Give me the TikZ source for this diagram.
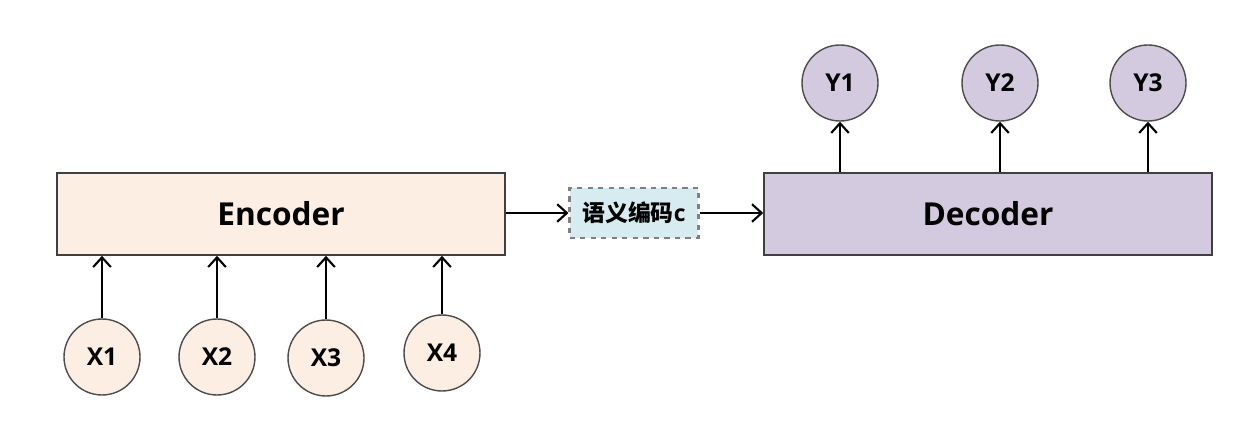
\documentclass[tikz,border=0pt]{standalone}
\usepackage{fontspec}
\setmainfont{Open Sans}
\newfontfamily\cjk{Noto Sans CJK SC}
\usepackage{tikz}
\usetikzlibrary{arrows.meta,positioning}
\definecolor{encfill}{RGB}{252,238,227}
\definecolor{decfill}{RGB}{212,202,224}
\definecolor{semfill}{RGB}{214,236,240}

\begin{document}
\begin{tikzpicture}[x=0.02cm,y=-0.02cm,>={Straight Barb[length=5.5pt,width=10pt]},
    block/.style={draw=black!75,line width=0.9pt,minimum width=8.96cm,minimum height=1.64cm,font=\fontsize{18}{20}\bfseries},
    token/.style={circle,draw=black!70,line width=0.8pt,minimum size=1.52cm,inner sep=0pt,font=\fontsize{14}{16}\bfseries},
    link/.style={->,line width=1.2pt}]
    \useasboundingbox (0,0) rectangle (1255,436);
    % encoder and decoder
    \node (enc) at (281,214) [block,fill=encfill]{Encoder};
    \node (dec) at (988,214) [block,fill=decfill]{Decoder};
    % semantic code
    \node (sem) at (634,213) [draw=gray,dashed,line width=1.2pt,fill=semfill,minimum width=2.58cm,minimum height=1cm,inner sep=2pt,font=\fontsize{13}{15}\bfseries]{{\cjk\bfseries 语义编码}c};
    % inputs
    \node (x1) at (102,357) [token,fill=encfill]{X1};
    \node (x2) at (217,357) [token,fill=encfill]{X2};
    \node (x3) at (326,358) [token,fill=encfill]{X3};
    \node (x4) at (442,353) [token,fill=encfill]{X4};
    % outputs
    \node (y1) at (840,83) [token,fill=decfill]{Y1};
    \node (y2) at (1000,83) [token,fill=decfill]{Y2};
    \node (y3) at (1148,83) [token,fill=decfill]{Y3};
    % edges
    \draw[link] (x1) -- (x1 |- enc.south);
    \draw[link] (x2) -- (x2 |- enc.south);
    \draw[link] (x3) -- (x3 |- enc.south);
    \draw[link] (x4) -- (x4 |- enc.south);
    \draw[link] (enc.east |- sem.west) -- (sem);
    \draw[link] (sem) -- (dec.west |- sem.east);
    \draw[link] (y1 |- dec.north) -- (y1);
    \draw[link] (y2 |- dec.north) -- (y2);
    \draw[link] (y3 |- dec.north) -- (y3);
  \end{tikzpicture}
\end{document}
